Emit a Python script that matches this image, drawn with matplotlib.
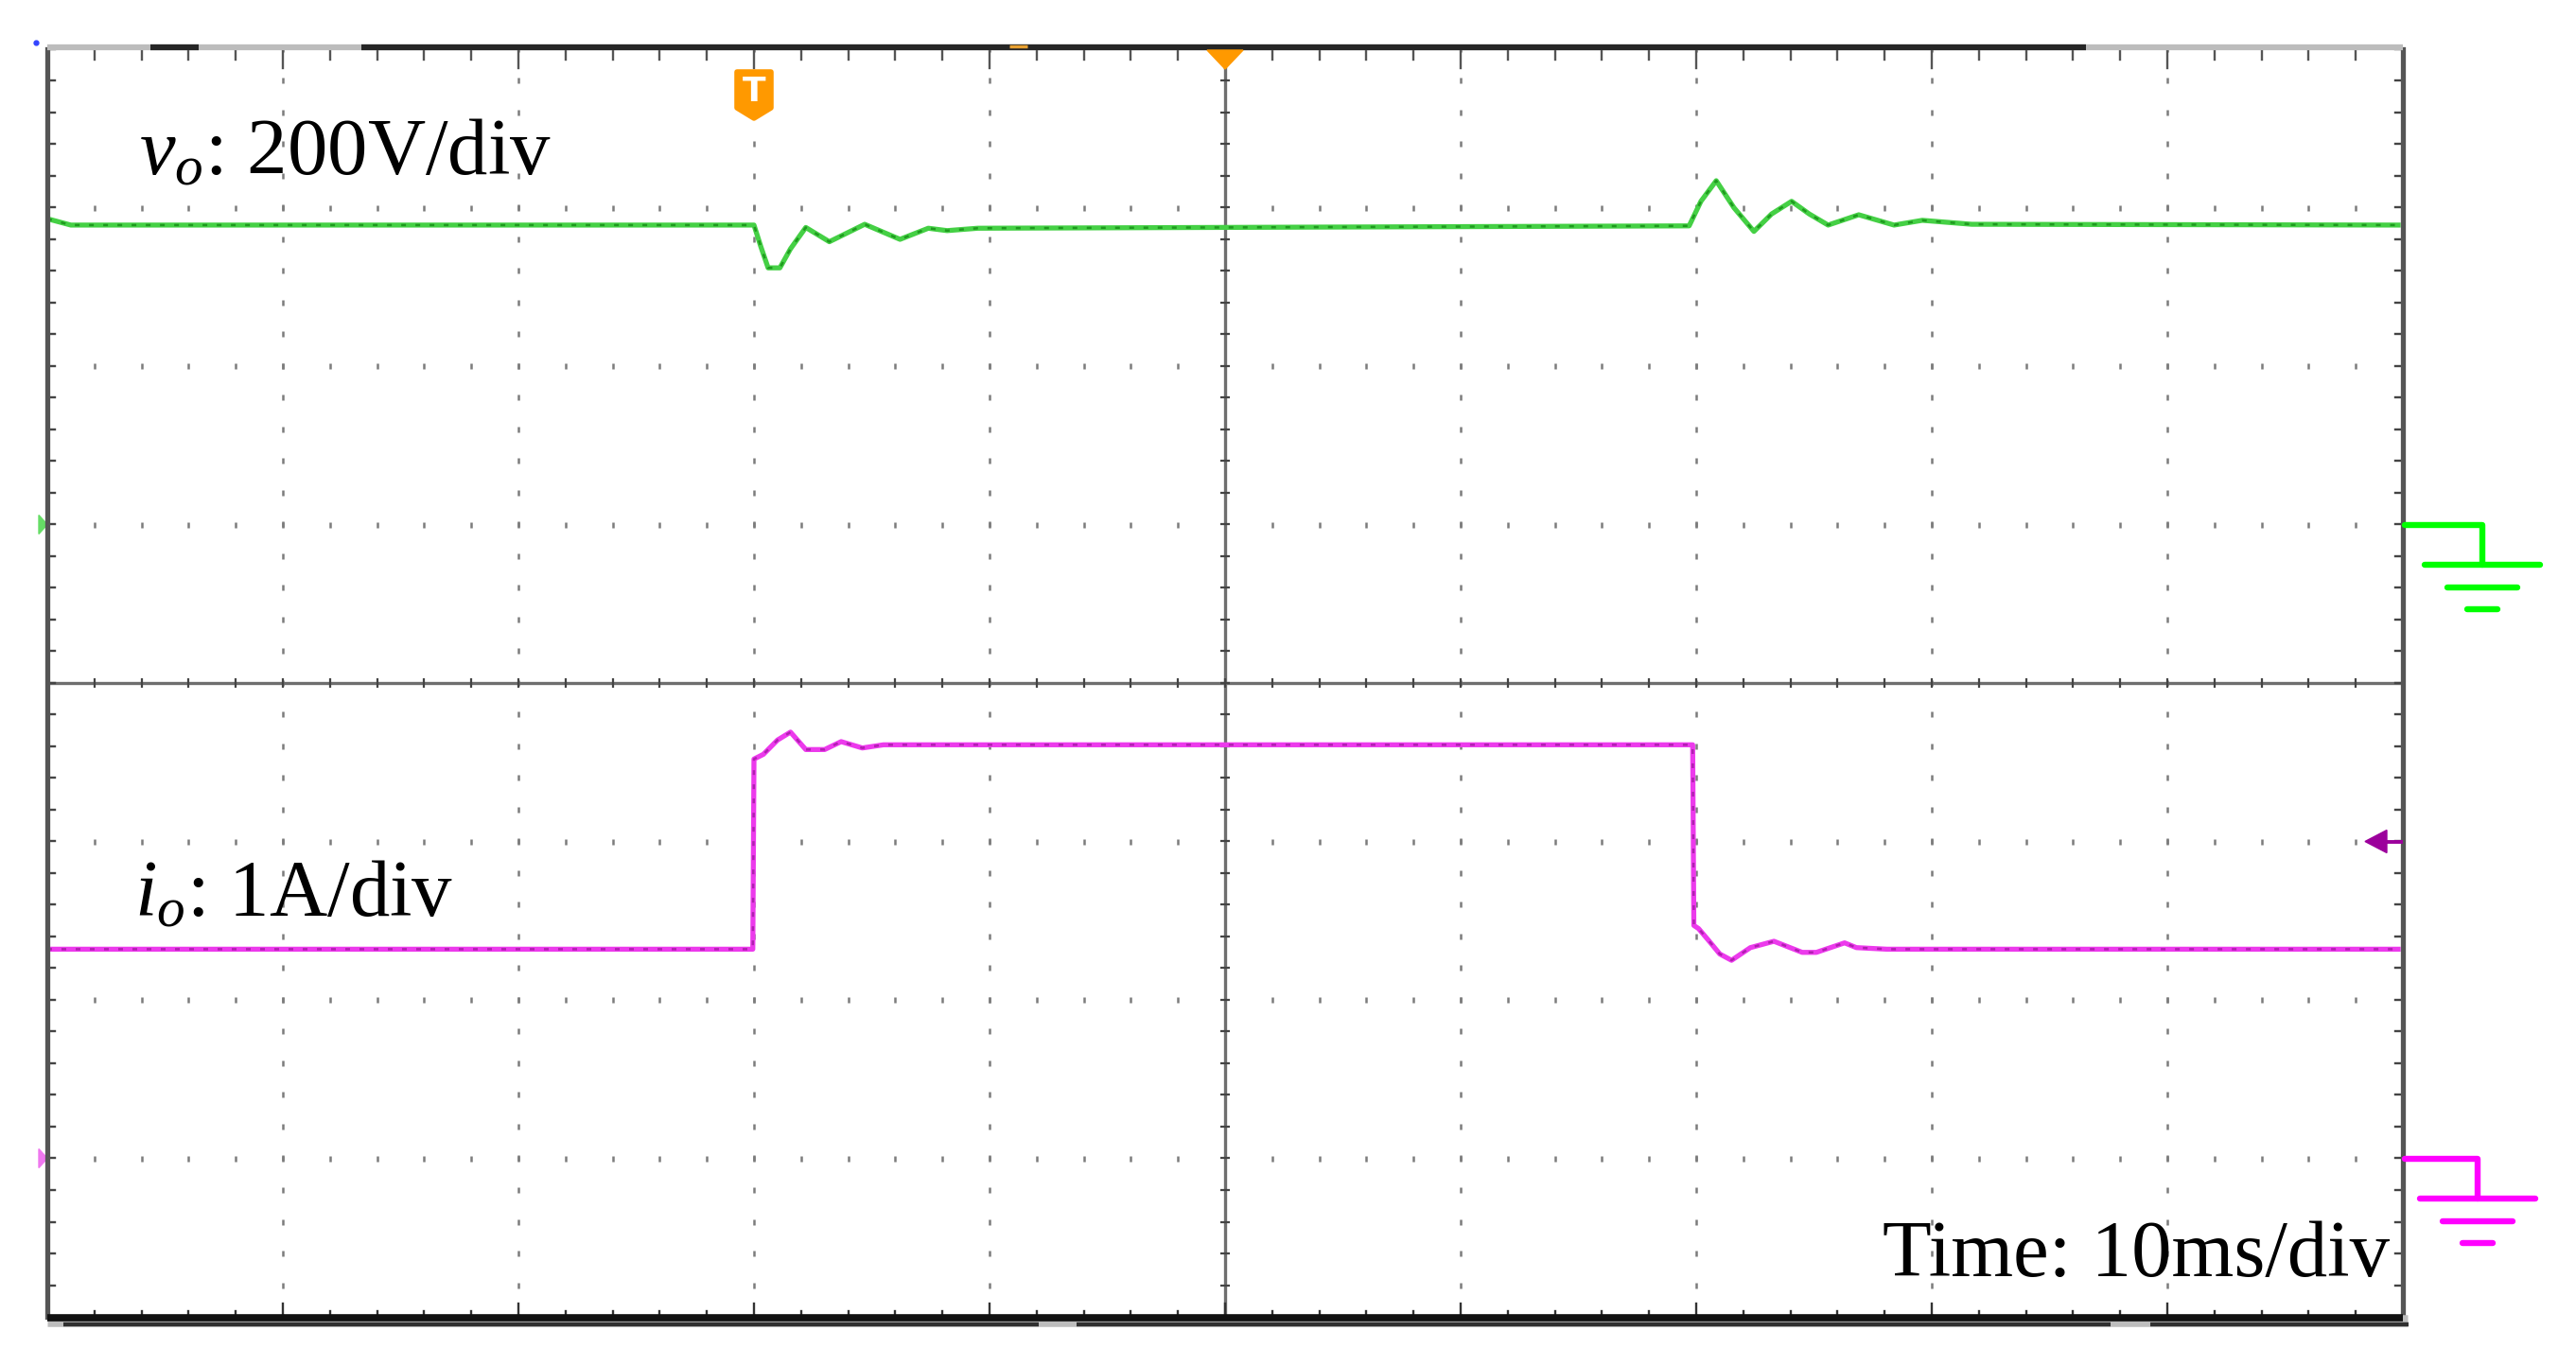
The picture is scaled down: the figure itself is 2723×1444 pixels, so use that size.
import numpy as np
import matplotlib.pyplot as plt
from matplotlib.patches import Polygon

plt.rcParams['mathtext.fontset'] = 'custom'
plt.rcParams['mathtext.rm'] = 'Liberation Serif'
plt.rcParams['mathtext.it'] = 'Liberation Serif:italic'

# Scope settings
time_div = 10      # ms/div
volt_div = 200     # V/div
amp_div = 1        # A/div
vo_offset = 1      # div, ground marker of vo
io_offset = -3     # div, ground marker of io
trig_level = 2.0   # A
trig_time = -20    # ms

# Output voltage vo (V) against time (ms)
vo_time = [-50, -49.0, -20.0, -19.7, -19.4, -18.9, -18.45, -17.8, -16.8, -15.3, -13.8,
           -12.6, -11.8, -10.5, 19.7, 20.2, 20.85, 21.6, 22.45, 23.2, 24.05, 24.8,
           25.6, 26.9, 28.4, 29.6, 31.7, 49.8]
vo_volt = [386, 378, 378, 350, 324, 324, 348, 375, 357, 379, 360,
           374, 371, 374, 377, 408, 434, 400, 370, 392, 408, 392,
           378, 391, 378, 384, 379, 378]

# Output current io (A) against time (ms)
io_time = [-50, -20.05, -20.0, -19.6, -19.0, -18.45, -17.8, -17.0, -16.3, -15.4, -14.5,
           19.85, 19.9, 20.1, 20.5, 21.0, 21.5, 22.3, 23.3, 24.5, 25.1, 26.3, 26.8,
           28.1, 49.8]
io_amp = [1.32, 1.32, 2.52, 2.55, 2.64, 2.69, 2.58, 2.58, 2.63, 2.59, 2.61,
          2.61, 1.47, 1.45, 1.38, 1.29, 1.25, 1.33, 1.37, 1.30, 1.30, 1.36, 1.33,
          1.32, 1.32]

# Figure and screen area (pixels)
W, H = 2723, 1444
L, R, T, B = 50, 2540, 52, 1392
fig = plt.figure(figsize=(W / 100, H / 100), dpi=100)
ax = fig.add_axes([L / W, 1 - B / H, (R - L) / W, (B - T) / H])
ax.set_xlim(-5, 5)
ax.set_ylim(-4, 4)
ax.axis('off')
px = 10 / (R - L)   # div per pixel
py = 8 / (B - T)

minor_x = np.arange(-5, 5.001, 0.2)
minor_y = np.arange(-4, 4.001, 0.2)

# Dotted graticule
for gx in range(-4, 5):
    if gx != 0:
        ax.plot(np.full(len(minor_y), gx), minor_y, ls='none', marker='|', ms=4,
                mew=1.8, color='#7c7c7c', zorder=1)
for gy in range(-3, 4):
    if gy != 0:
        ax.plot(minor_x, np.full(len(minor_x), gy), ls='none', marker='|', ms=4,
                mew=1.8, color='#7c7c7c', zorder=1)

# Centre cross with small ticks
ax.plot([-5, 5], [0, 0], color='#6e6e6e', lw=2.4, zorder=2)
ax.plot([0, 0], [-4, 4], color='#6e6e6e', lw=2.4, zorder=2)
ax.plot(minor_x, np.zeros(len(minor_x)), ls='none', marker='|', ms=7, mew=1.6,
        color='#444444', zorder=2)
ax.plot(np.zeros(len(minor_y)), minor_y, ls='none', marker='_', ms=7, mew=1.6,
        color='#444444', zorder=2)

# Border ticks
for x in minor_x:
    major = abs(x - round(x)) < 1e-6
    ax.plot([x, x], [4, 4 - (20 if major else 11) * py], color='#555555', lw=1.7, zorder=3)
    ax.plot([x, x], [-4, -4 + (14 if major else 6) * py], color='#333333', lw=1.7, zorder=3)
for y in minor_y:
    ax.plot([-5, -5 + 8 * px], [y, y], color='#444444', lw=1.7, zorder=3)
    ax.plot([5, 5 - 8 * px], [y, y], color='#444444', lw=1.7, zorder=3)

# Traces
vo_x = np.array(vo_time) / time_div
vo_y = np.array(vo_volt) / volt_div + vo_offset
ax.plot(vo_x, vo_y, color='#45d045', lw=3.8, solid_joinstyle='round', zorder=5)
ax.plot(vo_x, vo_y, color='#128812', lw=1.8, dashes=(2, 4), alpha=0.75, zorder=6)

io_x = np.array(io_time) / time_div
io_y = np.array(io_amp) / amp_div + io_offset
ax.plot(io_x, io_y, color='#ec3aec', lw=3.8, solid_joinstyle='round', zorder=5)
ax.plot(io_x, io_y, color='#880e88', lw=1.8, dashes=(2, 4), alpha=0.6, zorder=6)

# Frame
ax.plot([-5, -5], [-4, 4], color='#555555', lw=3.8, zorder=7, clip_on=False)
ax.plot([5, 5], [-4, 4], color='#555555', lw=3.8, zorder=7, clip_on=False)
ax.plot([-5, 5], [4 + 2 * py, 4 + 2 * py], color='#bcbcbc', lw=4.5, zorder=7,
        clip_on=False, solid_capstyle='butt')
ax.plot([-3.667, 3.655], [4 + 2 * py, 4 + 2 * py], color='#262626', lw=4.5, zorder=7,
        clip_on=False, solid_capstyle='butt')
ax.plot([-4.562, -4.357], [4 + 2 * py, 4 + 2 * py], color='#262626', lw=4.5, zorder=7,
        clip_on=False, solid_capstyle='butt')
ax.plot([-0.916, -0.839], [4 + 3 * py, 4 + 3 * py], color='#e8a030', lw=2.5, zorder=8,
        clip_on=False, solid_capstyle='butt')
ax.plot([-5, 5.02], [-4 - 4 * py, -4 - 4 * py], color='#bdbdbd', lw=9, zorder=7,
        clip_on=False, solid_capstyle='butt')
ax.plot([-5, 5], [-4 - 1 * py, -4 - 1 * py], color='#111111', lw=5.5, zorder=8,
        clip_on=False, solid_capstyle='butt')
for x0, x1 in [(-4.932, -0.791), (-0.631, 3.759), (3.928, 5.024)]:
    ax.plot([x0, x1], [-4 - 8 * py, -4 - 8 * py], color='#303030', lw=3.2, zorder=8,
            clip_on=False, solid_capstyle='butt')


# Ground symbols on the right side
def ground(y0, xc, color):
    ax.plot([5 + 2 * px, 5 + xc * px, 5 + xc * px], [y0, y0, y0 - 42 * py], color=color,
            lw=4.6, clip_on=False, zorder=8, solid_capstyle='round')
    for half, dy in [(61, 42), (37, 66), (16, 89)]:
        ax.plot([5 + (xc - half) * px, 5 + (xc + half) * px], [y0 - dy * py] * 2,
                color=color, lw=4.6, clip_on=False, zorder=8, solid_capstyle='round')


ground(vo_offset, 84, '#00ff00')
ground(io_offset, 79, '#ff00ff')

# Channel markers on the left border
for y0, c in [(vo_offset, '#66dd66'), (io_offset, '#ee77ee')]:
    ax.add_patch(Polygon([(-5 - 9 * px, y0 + 10 * py), (-5 - 9 * px, y0 - 10 * py), (-5, y0)],
                         closed=True, color=c, clip_on=False, zorder=6))
ax.plot([-5 - 12 * px], [4 + 7 * py], marker='o', ms=3.5, color='#3344ff', clip_on=False)

# Trigger level arrow
ty = trig_level / amp_div + io_offset
ax.add_patch(Polygon([(5 - 40 * px, ty), (5 - 17 * px, ty + 12 * py), (5 - 17 * px, ty - 12 * py)],
                     closed=True, color='#9c009c', zorder=8))
ax.plot([5 - 17 * px, 5], [ty, ty], color='#9c009c', lw=2.8, zorder=8)

# Trigger time marker "T" and centre marker
tx = trig_time / time_div
top = 4 - 24 * py
ax.add_patch(Polygon([(tx - 18 * px, top), (tx + 18 * px, top), (tx + 18 * px, top - 38 * py),
                      (tx, top - 49 * py), (tx - 18 * px, top - 38 * py)],
                     closed=True, facecolor='#ff9900', edgecolor='#ff9900', lw=4,
                     joinstyle='round', clip_on=False, zorder=8))
ax.text(tx, top - 21 * py, 'T', color='white', fontsize=26, fontweight='bold',
        ha='center', va='center', family='DejaVu Sans', zorder=9)
ax.add_patch(Polygon([(-19 * px, 4 - 1 * py), (19 * px, 4 - 1 * py), (0, 4 - 21 * py)],
                     closed=True, color='#ff9900', zorder=8))

# Labels
ax.text(-5 + 97 * px, 4 - 132 * py, r'$v_o$: 200V/div', fontsize=61,
        family='Liberation Serif', ha='left', va='baseline', zorder=9)
ax.text(-5 + 92 * px, 4 - 916 * py, r'$i_o$: 1A/div', fontsize=61,
        family='Liberation Serif', ha='left', va='baseline', zorder=9)
ax.text(5 - 14 * px, 4 - 1297 * py, 'Time: 10ms/div', fontsize=61,
        family='Liberation Serif', ha='right', va='baseline', zorder=9)

fig.savefig('out.png', dpi=100, facecolor='white')
